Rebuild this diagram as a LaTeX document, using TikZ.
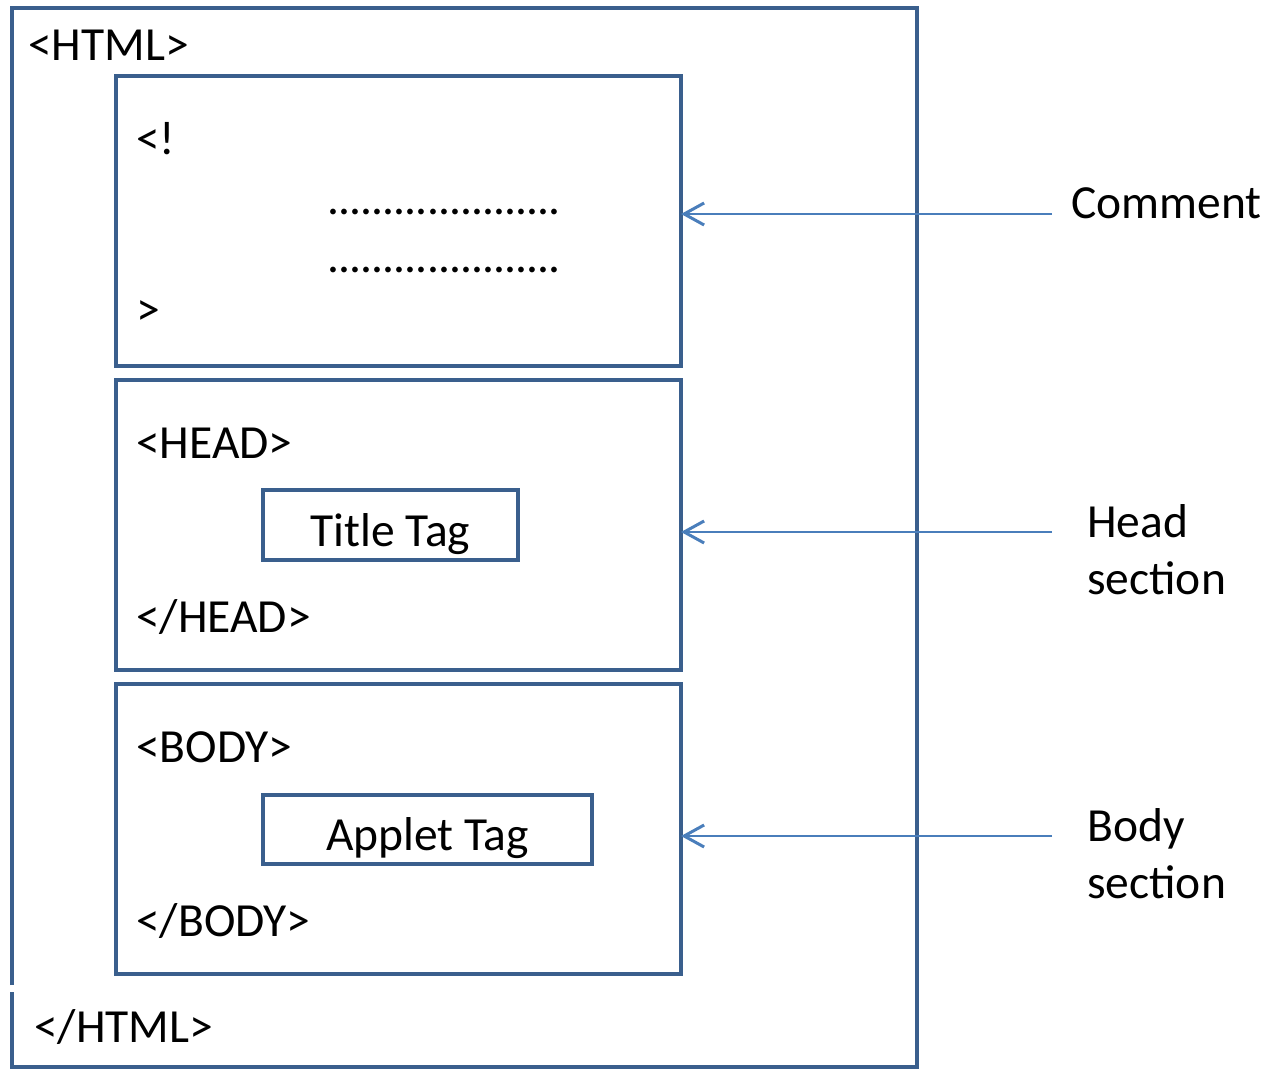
\documentclass[tikz,border=0pt]{standalone}
\usepackage{fontspec}
\setmainfont{Carlito}
\usetikzlibrary{arrows.meta}
\definecolor{boxblue}{HTML}{3A5F8D}
\definecolor{arrblue}{HTML}{4A7EBB}
\newcommand\onedot{\makebox[11.05pt][c]{.}}
\newcommand\dotrow{\onedot\onedot\onedot\onedot\onedot\onedot\onedot\onedot\onedot\onedot\onedot\onedot\onedot\onedot\onedot\onedot\onedot\onedot\onedot\onedot\onedot}
\begin{document}
\begin{tikzpicture}[x=1pt,y=-1pt,
  box/.style={draw=boxblue,line width=4pt},
  txt/.style={anchor=base west,inner sep=0pt,font=\fontsize{47.5}{57}\selectfont},
  ctxt/.style={anchor=base,inner sep=0pt,font=\fontsize{47.5}{57}\selectfont},
  ptr/.style={draw=arrblue,line width=2pt,-{Straight Barb[length=20pt,width=22pt,line width=3pt]}}]
\useasboundingbox (0,0) rectangle (1269,1070);
% outer HTML box
\draw[box] (12,985) -- (12,8) -- (917,8) -- (917,1067) -- (12,1067) -- (12,992);
\node[txt] (html) at (28,61) {<HTML>};
\node[txt] (ehtml) at (34,1042) {</HTML>};
% comment box
\draw[box] (116,76) rectangle (681,366);
\coordinate (cbox) at (681,214);
\node[txt] (c1) at (136,155) {<!};
\node[txt] (c2) at (328,214) {\dotrow};
\node[txt] (c3) at (328,272) {\dotrow};
\node[txt] (c4) at (136,325) {>};
% head box
\draw[box] (116,380) rectangle (681,670);
\coordinate (hbox) at (681,532);
\node[txt] (head) at (136,458) {<HEAD>};
\node[box,minimum width=255pt,minimum height=70pt,inner sep=0pt] (title) at (390.5,525) {};
\node[ctxt] (titlet) at (390.5,546) {Title Tag};
\node[txt] (ehead) at (136,632) {</HEAD>};
% body box
\draw[box] (116,684) rectangle (681,974);
\coordinate (bbox) at (681,836);
\node[txt] (body) at (136,762) {<BODY>};
\node[box,minimum width=329pt,minimum height=69pt,inner sep=0pt] (applet) at (427.5,829.5) {};
\node[ctxt] (applett) at (427.5,850) {Applet Tag};
\node[txt] (ebody) at (136,936) {</BODY>};
% labels
\node[txt] (lc) at (1071,218) {Comment};
\node[txt] (lh1) at (1087,537) {Head};
\node[txt] (lh2) at (1087,594) {section};
\node[txt] (lb1) at (1087,841) {Body};
\node[txt] (lb2) at (1087,898) {section};
\coordinate (ac) at (1052,214);
\coordinate (ah) at (1052,532);
\coordinate (ab) at (1052,836);
\draw[ptr] (ac) -- (cbox);
\draw[ptr] (ah) -- (hbox);
\draw[ptr] (ab) -- (bbox);
\end{tikzpicture}
\end{document}
